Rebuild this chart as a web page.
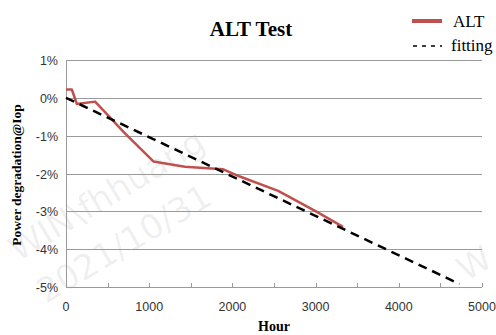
<!DOCTYPE html>
<html>
<head>
<meta charset="utf-8">
<script src="https://cdn.jsdelivr.net/npm/d3@7"></script>
<style>
  body { margin: 0; background: #fff; }
  svg { display: block; }
</style>
</head>
<body>
<div id="chart"></div>
<script>
// ALT measured points (hour, % power degradation)
const altHours = [0, 70, 130, 350, 700, 1050, 1430, 1890, 2090, 2550, 3010, 3330];
const altValues = [0.22, 0.22, -0.16, -0.1, -0.92, -1.68, -1.82, -1.89, -2.08, -2.46, -3.01, -3.41];

// linear fit, two end points
const fitHours = [0, 4730];
const fitValues = [0, -4.92];

const xTicks = [0, 1000, 2000, 3000, 4000, 5000];
const xMinorTicks = [500, 1000, 1500, 2000, 2500, 3000, 3500, 4000, 4500, 5000];
const yTicks = [1, 0, -1, -2, -3, -4, -5];

const size = { width: 496, height: 335 };
const margin = { top: 60, right: 14, bottom: 48, left: 66 };

const svg = d3
  .select("#chart")
  .append("svg")
  .attr("width", size.width)
  .attr("height", size.height);

const x = d3
  .scaleLinear()
  .domain([0, 5000])
  .range([margin.left, size.width - margin.right]);

const y = d3
  .scaleLinear()
  .domain([1, -5])
  .range([margin.top, size.height - margin.bottom]);

// watermark
const wm = svg.append("g").attr("fill", "#000").attr("fill-opacity", 0.07)
  .style("font-family", "'DejaVu Sans', sans-serif")
  .style("font-size", "34px");
wm.append("text").attr("transform", "translate(18,262) rotate(-31)").text("WIN\\fhhuang");
wm.append("text").attr("transform", "translate(46,304) rotate(-31)").text("2021/10/31");
wm.append("text").attr("transform", "translate(466,282) rotate(-31)").text("W");

// grid lines
svg
  .append("g")
  .selectAll("line")
  .data(yTicks)
  .join("line")
  .attr("x1", x(0))
  .attr("x2", x(5000))
  .attr("y1", (d) => Math.round(y(d)) + 0.5)
  .attr("y2", (d) => Math.round(y(d)) + 0.5)
  .attr("stroke", "#9a9a9a")
  .attr("stroke-width", 1);

// y axis line
svg
  .append("line")
  .attr("x1", x(0) + 0.5)
  .attr("x2", x(0) + 0.5)
  .attr("y1", y(1))
  .attr("y2", y(-5))
  .attr("stroke", "#9a9a9a");

// x axis minor ticks (pointing up)
svg
  .append("g")
  .selectAll("line")
  .data(xMinorTicks)
  .join("line")
  .attr("x1", (d) => Math.round(x(d)) + 0.5)
  .attr("x2", (d) => Math.round(x(d)) + 0.5)
  .attr("y1", y(-5))
  .attr("y2", y(-5) - 4)
  .attr("stroke", "#9a9a9a");

// tick labels
const sans = "'Liberation Sans', Arial, sans-serif";

svg
  .append("g")
  .selectAll("text")
  .data(yTicks)
  .join("text")
  .attr("x", x(0) - 8)
  .attr("y", (d) => y(d) + 5)
  .attr("text-anchor", "end")
  .style("font-family", sans)
  .style("font-size", "12.5px")
  .attr("fill", "#333")
  .text((d) => d + "%");

svg
  .append("g")
  .selectAll("text")
  .data(xTicks)
  .join("text")
  .attr("x", (d) => x(d))
  .attr("y", y(-5) + 24)
  .attr("text-anchor", "middle")
  .style("font-family", sans)
  .style("font-size", "12.5px")
  .attr("fill", "#333")
  .text((d) => d);

// lines
const line = d3
  .line()
  .x((d) => x(d[0]))
  .y((d) => y(d[1]));

svg
  .append("path")
  .datum(d3.zip(altHours, altValues))
  .attr("d", line)
  .attr("fill", "none")
  .attr("stroke", "#c0504d")
  .attr("stroke-width", 2.5)
  .attr("stroke-linejoin", "round");

svg
  .append("path")
  .datum(d3.zip(fitHours, fitValues))
  .attr("d", line)
  .attr("fill", "none")
  .attr("stroke", "#000")
  .attr("stroke-width", 2.5)
  .attr("stroke-dasharray", "9,6");

// title and axis titles
const serif = "'Liberation Serif', 'DejaVu Serif', serif";

svg
  .append("text")
  .attr("x", 251)
  .attr("y", 36)
  .attr("text-anchor", "middle")
  .style("font-family", serif)
  .style("font-weight", "bold")
  .style("font-size", "21px")
  .text("ALT Test");

svg
  .append("text")
  .attr("x", 274)
  .attr("y", 331)
  .attr("text-anchor", "middle")
  .style("font-family", serif)
  .style("font-weight", "bold")
  .style("font-size", "14px")
  .text("Hour");

svg
  .append("text")
  .attr("transform", "translate(21,175) rotate(-90)")
  .attr("text-anchor", "middle")
  .style("font-family", serif)
  .style("font-weight", "bold")
  .style("font-size", "13.5px")
  .text("Power degradation@Iop");

// legend
const legend = svg.append("g");
legend
  .append("line")
  .attr("x1", 412)
  .attr("x2", 442)
  .attr("y1", 21)
  .attr("y2", 21)
  .attr("stroke", "#c0504d")
  .attr("stroke-width", 4);
legend
  .append("line")
  .attr("x1", 413)
  .attr("x2", 442)
  .attr("y1", 46)
  .attr("y2", 46)
  .attr("stroke", "#000")
  .attr("stroke-width", 1.5)
  .attr("stroke-dasharray", "4,5");
legend
  .append("text")
  .attr("x", 453)
  .attr("y", 27)
  .style("font-family", serif)
  .style("font-size", "17px")
  .text("ALT");
legend
  .append("text")
  .attr("x", 451)
  .attr("y", 51)
  .style("font-family", serif)
  .style("font-size", "17px")
  .text("fitting");
</script>
</body>
</html>
